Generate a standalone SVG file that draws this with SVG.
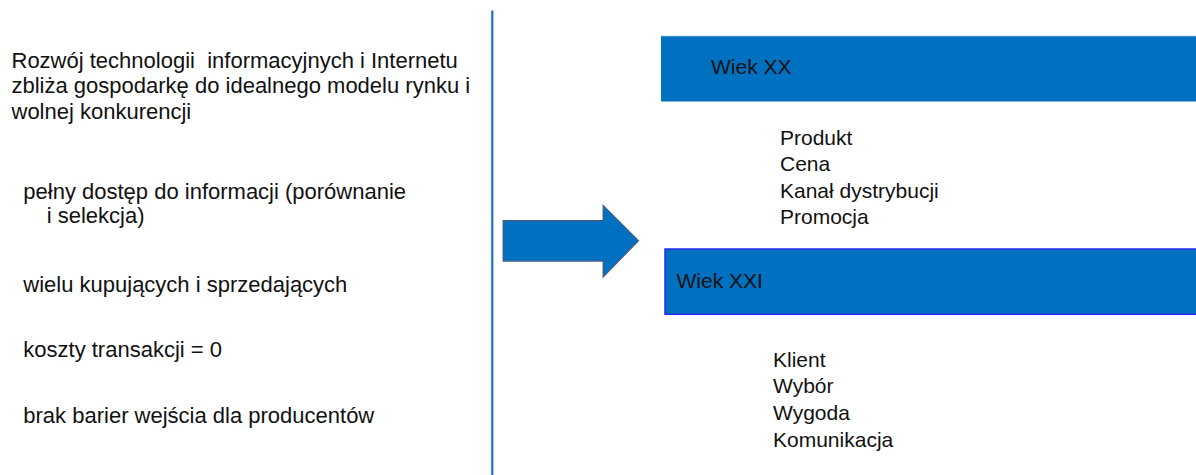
<svg xmlns="http://www.w3.org/2000/svg" width="1196" height="475" viewBox="0 0 1196 475">
<style>
text{font-family:"Liberation Sans",Arial,sans-serif;fill:#111;}
.l{font-size:22px;}
.r{font-size:21px;}
.band{fill:#0070c0;}
</style>
<rect width="1196" height="475" fill="#fff"/>
<g id="left-text">
<text class="l" x="11.5" y="67.5" xml:space="preserve">Rozwój technologii  informacyjnych i Internetu</text>
<text class="l" x="11.5" y="93">zbliża gospodarkę do idealnego modelu rynku i</text>
<text class="l" x="11.5" y="118.5">wolnej konkurencji</text>
<text class="l" x="23.3" y="199">pełny dostęp do informacji (porównanie</text>
<text class="l" x="46.7" y="223">i selekcja)</text>
<text class="l" x="23.3" y="292">wielu kupujących i sprzedających</text>
<text class="l" x="23.3" y="357">koszty transakcji = 0</text>
<text class="l" x="23.3" y="423">brak barier wejścia dla producentów</text>
</g>
<g id="connectors">
<line x1="492.3" y1="10.5" x2="492.3" y2="475" stroke="#1a6fd0" stroke-width="2.2"/>
<polygon points="503.3,220.7 603.3,220.7 603.3,205.7 638.3,240.7 603.3,276.7 603.3,261 503.3,261" fill="#0070c0" stroke="#3f5f8f" stroke-width="1.5"/>
</g>
<g id="wiek-xx">
<rect class="band" x="661" y="36" width="535" height="65.5"/>
<line x1="661" y1="36.3" x2="1196" y2="36.3" stroke="#5aa0dc" stroke-width="0.8"/>
<text class="r" x="711" y="74.3">Wiek XX</text>
</g>
<g id="list-xx">
<text class="r" x="780" y="144.5">Produkt</text>
<text class="r" x="780" y="171">Cena</text>
<text class="r" x="780" y="197.5">Kanał dystrybucji</text>
<text class="r" x="780" y="224">Promocja</text>
</g>
<g id="wiek-xxi">
<rect class="band" x="665" y="249" width="532" height="65.3" stroke="#2a2aee" stroke-width="1.5"/>
<text class="r" x="676.5" y="288.3">Wiek XXI</text>
</g>
<g id="list-xxi">
<text class="r" x="773" y="366.7">Klient</text>
<text class="r" x="773" y="393.3">Wybór</text>
<text class="r" x="773" y="420">Wygoda</text>
<text class="r" x="773" y="446.7">Komunikacja</text>
</g>
</svg>
